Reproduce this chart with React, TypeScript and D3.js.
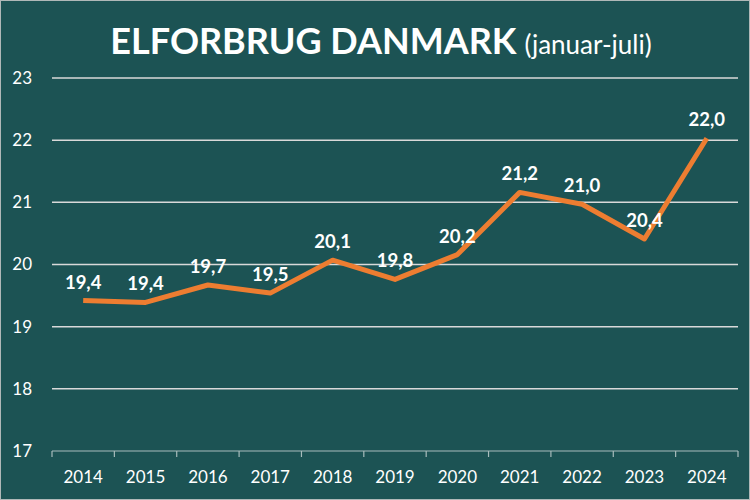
import React from 'react';
import * as d3 from 'd3';

const years = ['2014', '2015', '2016', '2017', '2018', '2019', '2020', '2021', '2022', '2023', '2024'];
const forbrug = [19.42, 19.39, 19.67, 19.54, 20.07, 19.76, 20.16, 21.16, 20.97, 20.41, 22.03];
const yTicks = [17, 18, 19, 20, 21, 22, 23];

const W = 750;
const H = 500;
const margin = { top: 78, right: 12, bottom: 49, left: 52 };
const bg = '#1c5354';
const orange = '#ed7d31';
const font = 'Lato, "Open Sans", sans-serif';

export default function App() {
    const innerW = W - margin.left - margin.right;
    const innerH = H - margin.top - margin.bottom;

    const x = d3.scaleBand<string>().domain(years).range([0, innerW]).padding(0);
    const y = d3.scaleLinear().domain([17, 23]).range([innerH, 0]);

    const cx = (d: string) => (x(d) ?? 0) + x.bandwidth() / 2;

    const line = d3.line<number>()
        .x((_, i) => cx(years[i]))
        .y(d => y(d));

    const fmt = (v: number) => v.toFixed(1).replace('.', ',');

    return (
        <svg width={W} height={H} style={{ position: 'absolute', left: 0, top: 0, display: 'block' }}>
            <rect x={0.5} y={0.5} width={W - 1} height={H - 1} fill={bg} stroke="#b0b8b8" strokeWidth={1} />

            <text x={W / 2 + 6} y={54} textAnchor="middle" fill="#ffffff" fontFamily={font}>
                <tspan fontWeight="bold" fontSize={36}>ELFORBRUG DANMARK</tspan>
                <tspan fontSize={26} dx={8}>(januar-juli)</tspan>
            </text>

            <g transform={`translate(${margin.left},${margin.top})`}>
                {/* gridlines */}
                {yTicks.slice(1).map(t => (
                    <line key={t} x1={0} x2={innerW} y1={y(t)} y2={y(t)} stroke="#d9d9d9" strokeWidth={1.5} />
                ))}
                {yTicks.map(t => (
                    <text key={t} x={-20} y={y(t)} dy="0.35em" textAnchor="end" fill="#ffffff"
                        fontFamily={font} fontSize={17}>{t}</text>
                ))}

                {/* x axis */}
                <line x1={0} x2={innerW} y1={innerH} y2={innerH} stroke="#a8bcbc" strokeWidth={1.2} />
                {years.map(yr => (
                    <line key={'t' + yr} x1={x(yr)} x2={x(yr)} y1={innerH} y2={innerH + 6} stroke="#a8bcbc" strokeWidth={1.2} />
                ))}
                <line x1={innerW} x2={innerW} y1={innerH} y2={innerH + 6} stroke="#a8bcbc" strokeWidth={1.2} />
                {years.map(yr => (
                    <text key={yr} x={cx(yr)} y={innerH + 32} textAnchor="middle" fill="#ffffff"
                        fontFamily={font} fontSize={17}>{yr}</text>
                ))}

                <path d={line(forbrug) ?? ''} fill="none" stroke={orange} strokeWidth={5} strokeLinejoin="round" />

                {forbrug.map((v, i) => (
                    <text key={'l' + i} x={cx(years[i])} y={y(v) - 12} textAnchor="middle" fill="#ffffff"
                        fontFamily={font} fontWeight="bold" fontSize={18.5}>{fmt(v)}</text>
                ))}
            </g>
        </svg>
    );
}
